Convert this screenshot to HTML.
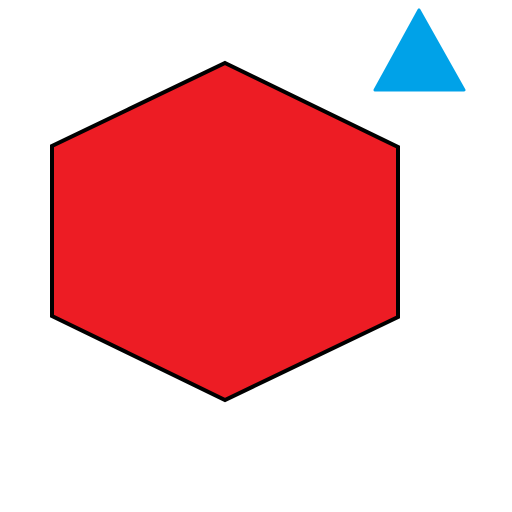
<!DOCTYPE html>
<html>
<head>
<meta charset="utf-8">
<style>
html,body{margin:0;padding:0;background:#fff;}
svg{display:block;}
</style>
</head>
<body>
<svg width="512" height="512" viewBox="0 0 512 512">
  <polygon
    points="225,63 398,147 398,317 225,400 52,316 52,146"
    fill="#ED1C24" stroke="#000" stroke-width="4" stroke-linejoin="miter"/>
  <polygon
    points="419,10 464,90 375,90"
    fill="#00A2E8" stroke="#00A2E8" stroke-width="3" stroke-linejoin="round"/>
</svg>
</body>
</html>
